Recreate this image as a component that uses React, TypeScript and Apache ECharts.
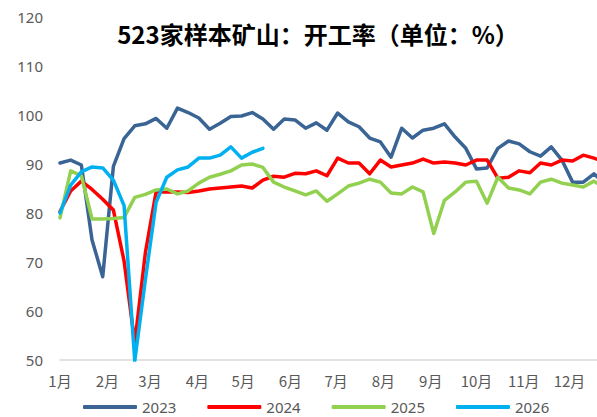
import React, { useEffect, useRef } from "react";
import * as echarts from "echarts";

const title = "523家样本矿山：开工率（单位：%）";
const monthLabels = ["1月", "2月", "3月", "4月", "5月", "6月", "7月", "8月", "9月", "10月", "11月", "12月"];
const monthStartDays = [0, 31, 59, 90, 120, 151, 181, 212, 243, 273, 304, 334];
const seriesNames = ["2023", "2024", "2025", "2026"];
const seriesColors = ["#3A6494", "#FF0000", "#92D050", "#00B0F0"];

const y2023 = [
  90.2, 90.8, 89.8, 74.5, 67.0, 89.5, 95.2, 97.8, 98.2, 99.3,
  97.3, 101.4, 100.5, 99.4, 97.1, 98.3, 99.7, 99.8, 100.5, 99.2,
  97.1, 99.2, 99.0, 97.3, 98.4, 96.9, 100.4, 98.6, 97.6, 95.3,
  94.5, 91.4, 97.3, 95.3, 96.9, 97.3, 98.2, 95.5, 93.2, 89.0,
  89.2, 93.2, 94.7, 94.1, 92.5, 91.6, 93.5, 90.8, 86.3, 86.3,
  88.0, 86.0,
];
const y2024 = [
  80.3, 84.5, 86.5, 84.8, 82.8, 80.6, 70.2, 53.5, 72.0, 84.3,
  84.3, 84.3, 84.2, 84.5, 84.9, 85.1, 85.3, 85.5, 85.1, 86.7,
  87.5, 87.3, 88.1, 88.0, 88.6, 87.6, 91.2, 90.2, 90.2, 88.0,
  90.8, 89.4, 89.8, 90.2, 91.0, 90.2, 90.4, 90.2, 89.8, 90.8,
  90.8, 87.1, 87.3, 88.6, 88.2, 90.2, 89.8, 90.8, 90.6, 91.8,
  91.2, 90.4,
];
const y2025 = [
  79.0, 88.6, 87.6, 78.8, 78.8, 78.9, 79.1, 83.2, 83.8, 84.7,
  84.9, 83.9, 84.5, 86.1, 87.3, 87.9, 88.6, 89.8, 90.0, 89.3,
  86.3, 85.3, 84.5, 83.7, 84.5, 82.4, 83.9, 85.5, 86.1, 86.9,
  86.3, 84.1, 83.9, 85.3, 84.3, 75.8, 82.6, 84.3, 86.3, 86.5,
  82.0, 87.3, 85.1, 84.7, 83.9, 86.3, 86.9, 86.1, 85.7, 85.3,
  86.5, 85.0,
];
const y2026 = [
  80.0, 85.7, 88.4, 89.4, 89.2, 86.7, 81.5, 49.8, 66.5, 82.2,
  87.3, 88.8, 89.4, 91.2, 91.2, 91.8, 93.5, 91.2, 92.4, 93.2,
];
const allValues = [y2023, y2024, y2025, y2026];

const DAYS_PER_WEEK = 7;

export default function App() {
  const ref = useRef<HTMLDivElement>(null);
  useEffect(() => {
    if (!ref.current) return;
    const chart = echarts.init(ref.current, undefined, { renderer: "svg" });
    const textColor = "#595959";
    chart.setOption({
      animation: false,
      backgroundColor: "#ffffff",
      graphic: [
        {
          type: "text",
          x: 318,
          y: 33,
          style: {
            text: title,
            textAlign: "center",
            textVerticalAlign: "middle",
            fill: "#000000",
            font: 'bold 24px "Noto Sans CJK SC", sans-serif',
          },
        },
      ],
      grid: { left: 60, right: 0, top: 17, bottom: 57, containLabel: false },
      legend: {
        left: 78,
        top: 399,
        padding: [0, 5, 0, 5],
        itemWidth: 54,
        itemHeight: 4,
        itemGap: 31,
        icon: "roundRect",
        textStyle: {
          color: textColor,
          fontSize: 15,
          lineHeight: 16,
          fontFamily: '"Noto Sans", sans-serif',
        },
        data: seriesNames,
      },
      xAxis: {
        type: "value",
        min: 0,
        max: 352,
        axisLine: { show: true, lineStyle: { color: "#D9D9D9", width: 1.5 } },
        axisTick: { show: false },
        splitLine: { show: false },
        axisLabel: {
          customValues: monthStartDays,
          color: textColor,
          fontSize: 15,
          fontFamily: '"Noto Sans CJK SC", sans-serif',
          margin: 13,
          formatter: (v: number) => {
            const idx = monthStartDays.indexOf(Math.round(v));
            return idx >= 0 ? monthLabels[idx] : "";
          },
        },
      },
      yAxis: {
        type: "value",
        min: 50,
        max: 120,
        interval: 10,
        axisLine: { show: false },
        axisTick: { show: false },
        splitLine: { show: false },
        axisLabel: {
          color: textColor,
          fontSize: 15,
          fontFamily: '"Noto Sans", sans-serif',
          margin: 17,
        },
      },
      series: seriesNames.map((name, k) => ({
        name,
        type: "line",
        showSymbol: false,
        symbol: "none",
        clip: true,
        color: seriesColors[k],
        lineStyle: { width: 3.5, color: seriesColors[k], cap: "round", join: "round" },
        data: allValues[k].map((v, i) => [i * DAYS_PER_WEEK, v]),
      })),
    });
    return () => chart.dispose();
  }, []);
  return (
    <div
      ref={ref}
      style={{ position: "fixed", left: 0, top: 0, width: 597, height: 417, background: "#fff" }}
    />
  );
}
